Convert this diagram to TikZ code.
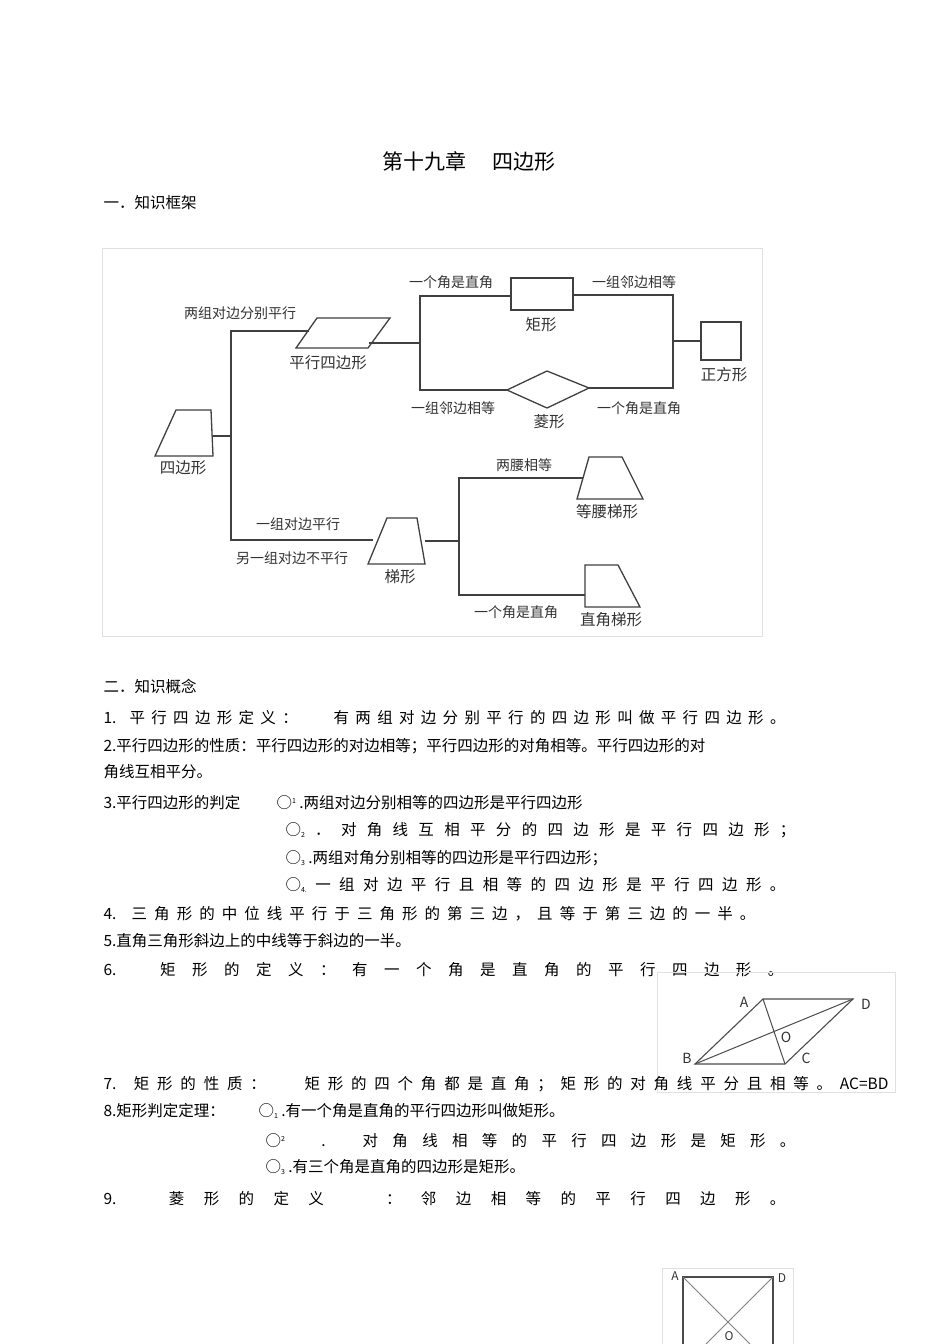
\documentclass[tikz,border=0pt]{standalone}
\usepackage{fontspec}
\setmainfont{Noto Sans CJK SC}
\usepackage{tikz}
\usetikzlibrary{calc,positioning}
\newcommand\spr[2]{\makebox[#1pt][s]{#2}}
\begin{document}
\begin{tikzpicture}[x=1pt,y=-1pt,line width=1pt]
	\tikzstyle{lbl} = [inner sep=0pt,font=\fontsize{14}{14}\selectfont,text=black!80]
	\tikzstyle{shapelbl} = [inner sep=0pt,font=\fontsize{15.5}{15.5}\selectfont,text=black!80]
	\tikzstyle{txt} = [inner sep=0pt,anchor=west,font=\fontsize{15.5}{16}\selectfont]
	\tikzstyle{wire} = [draw=black!75,line width=1.3pt]
	\tikzstyle{fig} = [draw=black!12,line width=0.8pt]
	\useasboundingbox[fill=white] (0,0) rectangle (950,1344);
	% title
	\node[inner sep=0pt,font=\fontsize{21}{21}\selectfont] (title) at (469,161) {第十九章\hspace{1.2em}四边形};
	\node[txt] (sec1) at (103,203) {一．知识框架};
	% knowledge frame
	\draw[fig] (102,248) rectangle (762,636);
	\coordinate (Q1) at (176,410); \coordinate (Q2) at (211,410);
	\coordinate (Q3) at (213,456); \coordinate (Q4) at (155,456);
	\draw[wire] (Q1) -- (Q2) -- (Q3) -- (Q4) -- cycle;
	\node[shapelbl] (quad) at (183,468) {四边形};
	\coordinate (P1) at (317,318); \coordinate (P2) at (390,318);
	\coordinate (P3) at (368,348); \coordinate (P4) at (296,348);
	\draw[wire] (P1) -- (P2) -- (P3) -- (P4) -- cycle;
	\node[shapelbl] (para) at (328,363) {平行四边形};
	\node[wire,rectangle,minimum width=62pt,minimum height=32pt,inner sep=0pt] (rect) at (542,294) {};
	\node[shapelbl] (rectl) at (541,325) {矩形};
	\node[wire,rectangle,minimum width=40pt,minimum height=38pt,inner sep=0pt] (sq) at (721,341) {};
	\node[shapelbl] (sql) at (724,375) {正方形};
	\coordinate (R1) at (507,390); \coordinate (R2) at (547,371);
	\coordinate (R3) at (589,388); \coordinate (R4) at (547,408);
	\draw[wire] (R1) -- (R2) -- (R3) -- (R4) -- cycle;
	\node[shapelbl] (rhl) at (549,422) {菱形};
	\coordinate (T1) at (387,518); \coordinate (T2) at (417,518);
	\coordinate (T3) at (425,564); \coordinate (T4) at (368,564);
	\draw[wire] (T1) -- (T2) -- (T3) -- (T4) -- cycle;
	\node[shapelbl] (trap) at (400,577) {梯形};
	\coordinate (I1) at (589,457); \coordinate (I2) at (622,457);
	\coordinate (I3) at (643,499); \coordinate (I4) at (577,499);
	\draw[wire] (I1) -- (I2) -- (I3) -- (I4) -- cycle;
	\node[shapelbl] (isol) at (607,512) {等腰梯形};
	\coordinate (K1) at (585,565); \coordinate (K2) at (618,565);
	\coordinate (K3) at (640,607); \coordinate (K4) at (585,607);
	\draw[wire] (K1) -- (K2) -- (K3) -- (K4) -- cycle;
	\node[shapelbl] (rtl) at (611,620) {直角梯形};
	% connectors
	\draw[wire] (213,436) -- (231,436);
	\draw[wire] (309,331) -| (231,540) -- (373,540);
	\draw[wire] (369,343) -- (420,343);
	\draw[wire] (rect.west |- 0,296) -| (420,390) -- (R1);
	\draw[wire] (rect.east |- 0,295) -| (673,388) -- (R3);
	\draw[wire] (673,341) -- (sq.west);
	\draw[wire] (425,541) -- (459,541);
	\draw[wire] (583,478) -| (459,595) -- (K4 |- 0,595);
	% labels
	\node[lbl] (l1) at (240,313) {两组对边分别平行};
	\node[lbl] (l2) at (451,282) {一个角是直角};
	\node[lbl] (l3) at (634,282) {一组邻边相等};
	\node[lbl] (l4) at (453,408) {一组邻边相等};
	\node[lbl] (l5) at (639,408) {一个角是直角};
	\node[lbl] (l6) at (298,524) {一组对边平行};
	\node[lbl] (l7) at (292,558) {另一组对边不平行};
	\node[lbl] (l8) at (524,465) {两腰相等};
	\node[lbl] (l9) at (516,612) {一个角是直角};
	% concepts
	\node[txt] (sec2) at (103,686) {二．知识概念};
	\node[txt] (c1) at (103,718) {\spr{682}{1. 平 行 四 边 形 定 义 ： \hspace{1.5em} 有 两 组 对 边 分 别 平 行 的 四 边 形 叫 做 平 行 四 边 形 。}};
	\node[txt] (c2) at (103,746) {2.平行四边形的性质：平行四边形的对边相等；平行四边形的对角相等。平行四边形的对};
	\node[txt] (c3) at (103,772) {角线互相平分。};
	\node[txt] (c4) at (103,803) {3.平行四边形的判定};
	\node[txt] (c4b) at (276,803) {○\raisebox{0.6ex}{\scriptsize 1} .两组对边分别相等的四边形是平行四边形};
	\node[txt] (c5) at (285,830) {\spr{510}{○\raisebox{-0.3ex}{\scriptsize 2} ． 对 角 线 互 相 平 分 的 四 边 形 是 平 行 四 边 形 ；}};
	\node[txt] (c6) at (285,858) {○\raisebox{-0.3ex}{\scriptsize 3} .两组对角分别相等的四边形是平行四边形；};
	\node[txt] (c7) at (285,885) {\spr{500}{○\raisebox{-0.3ex}{\scriptsize 4.} 一 组 对 边 平 行 且 相 等 的 四 边 形 是 平 行 四 边 形 。}};
	\node[txt] (c8) at (103,914) {\spr{652}{4. 三 角 形 的 中 位 线 平 行 于 三 角 形 的 第 三 边 ， 且 等 于 第 三 边 的 一 半 。}};
	\node[txt] (c9) at (103,941) {5.直角三角形斜边上的中线等于斜边的一半。};
	\node[txt] (c10) at (103,970) {\spr{680}{6. 矩 形 的 定 义 ： 有 一 个 角 是 直 角 的 平 行 四 边 形 。}};
	% parallelogram figure
	\draw[fig] (657,972) rectangle (895,1092);
	\coordinate (A) at (763,999); \coordinate (D) at (853,999);
	\coordinate (B) at (695,1064); \coordinate (C) at (785,1064);
	\draw[black!70,line width=1.1pt] (A) -- (D) -- (C) -- (B) -- cycle;
	\draw[black!70,line width=1pt] (A) -- (C) (B) -- (D);
	\node[lbl,font=\fontsize{14}{14}\selectfont] (lA) at (744,1002) {A};
	\node[lbl,font=\fontsize{14}{14}\selectfont] (lD) at (866,1004) {D};
	\node[lbl,font=\fontsize{14}{14}\selectfont] (lB) at (687,1058) {B};
	\node[lbl,font=\fontsize{14}{14}\selectfont] (lC) at (806,1058) {C};
	\node[lbl,font=\fontsize{14}{14}\selectfont] (lO) at (786,1037) {O};
	\node[txt] (c11) at (103,1084) {\spr{785}{7. 矩 形 的 性 质 ： \hspace{1.5em} 矩 形 的 四 个 角 都 是 直 角 ； 矩 形 的 对 角 线 平 分 且 相 等 。 AC=BD}};
	\node[txt] (c12) at (103,1111) {8.矩形判定定理：};
	\node[txt] (c12b) at (258,1111) {○\raisebox{-0.3ex}{\scriptsize 1} .有一个角是直角的平行四边形叫做矩形。};
	\node[txt] (c13) at (265,1141) {\spr{530}{○\raisebox{0.6ex}{\scriptsize 2} \hspace{0.5em} . 对 角 线 相 等 的 平 行 四 边 形 是 矩 形 。}};
	\node[txt] (c14) at (265,1167) {○\raisebox{-0.3ex}{\scriptsize 3} .有三个角是直角的四边形是矩形。};
	\node[txt] (c15) at (103,1199) {\spr{682}{9. 菱 形 的 定 义 \hspace{1.5em} ： 邻 边 相 等 的 平 行 四 边 形 。}};
	% rectangle figure
	\draw[fig] (662,1268) -- (662,1344) (662,1268) -- (793,1268) -- (793,1344);
	\coordinate (SA) at (683,1277); \coordinate (SD) at (773,1277);
	\draw[black!70,line width=1.1pt] (683,1344) -- (SA) -- (SD) -- (773,1344);
	\draw[black!50,line width=0.8pt] (SA) -- (750,1344) (SD) -- (706,1344);
	\node[lbl,font=\fontsize{12}{12}\selectfont] (lSA) at (675,1276) {A};
	\node[lbl,font=\fontsize{12}{12}\selectfont] (lSD) at (782,1278) {D};
	\node[lbl,font=\fontsize{12}{12}\selectfont] (lSO) at (729,1336) {O};
\end{tikzpicture}
\end{document}
